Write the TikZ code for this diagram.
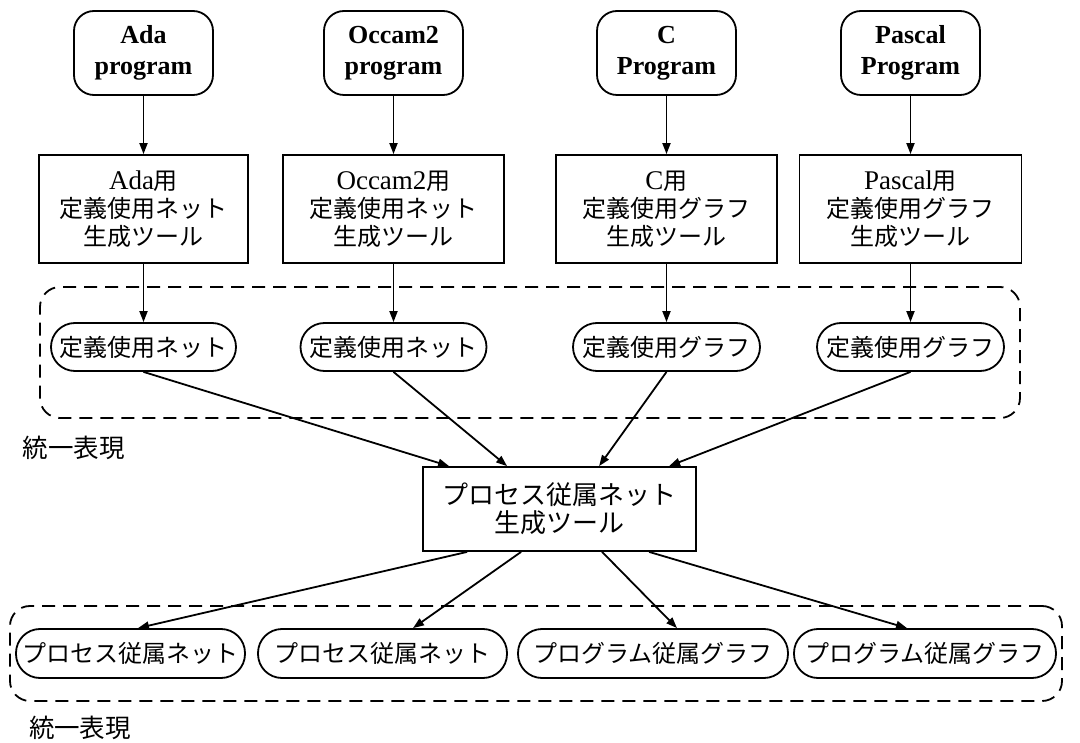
\documentclass[tikz,border=0pt]{standalone}
\usepackage{fontspec}
\setmainfont{Liberation Serif}
\newfontfamily\jp{Noto Sans CJK JP}
\usetikzlibrary{arrows.meta,calc}
\newcommand\latn[1]{{\rmfamily\fontsize{27}{28}\selectfont #1}}
\begin{document}
\begin{tikzpicture}[x=1pt,y=-1pt,
  line width=1.8pt,
  src/.style={draw, rounded corners=20pt, minimum width=139pt, minimum height=84pt,
    align=center, inner sep=0pt, font=\fontsize{26}{31}\selectfont\bfseries},
  tool/.style={draw, minimum height=108pt, align=center, inner sep=0pt,
    font=\jp\fontsize{24}{28}\selectfont},
  rep/.style={draw, rounded corners=24pt, minimum height=48pt, inner sep=0pt,
    font=\jp\fontsize{24}{28}\selectfont},
  group/.style={draw, dash pattern=on 13pt off 8pt, rounded corners=20pt, inner sep=0pt},
  arr/.style={-{Triangle[length=11pt,width=8pt]}},
  lbl/.style={font=\jp\fontsize{25.5}{28}\selectfont, inner sep=0pt}
]
\useasboundingbox (0,0) rectangle (1080,743);

% source programs
\node[src] (sA) at (143.5,53) {Ada\\program};
\node[src] (sO) at (393.5,53) {Occam2\\program};
\node[src] (sC) at (666.5,53) {C\\Program};
\node[src] (sP) at (910.5,53) {Pascal\\Program};

% language-specific generators
\node[tool, minimum width=209pt] (tA) at (143.5,209) {\latn{Ada}用\\定義使用ネット\\生成ツール};
\node[tool, minimum width=221pt] (tO) at (393.5,209) {\latn{Occam2}用\\定義使用ネット\\生成ツール};
\node[tool, minimum width=221pt] (tC) at (666.5,209) {\latn{C}用\\定義使用グラフ\\生成ツール};
\node[tool, minimum width=222pt] (tP) at (910.5,209) {\latn{Pascal}用\\定義使用グラフ\\生成ツール};

% unified representation (upper)
\node[group, minimum width=980pt, minimum height=131pt] (g1) at (530,352.5) {};
\node[rep, minimum width=185pt] (rA) at (143.5,347) {定義使用ネット};
\node[rep, minimum width=186pt] (rO) at (393.5,347) {定義使用ネット};
\node[rep, minimum width=187pt] (rC) at (666.5,347) {定義使用グラフ};
\node[rep, minimum width=187pt] (rP) at (910.5,347) {定義使用グラフ};
\node[lbl] (L1) at (74,448) {統一表現};

% process dependence generator
\node[tool, minimum width=273pt, minimum height=84pt, font=\jp\fontsize{26}{28}\selectfont] (mid) at (559.5,509) {プロセス従属ネット\\生成ツール};

% unified representation (lower)
\node[group, minimum width=1052pt, minimum height=95pt] (g2) at (536,653.5) {};
\node[rep, minimum width=229pt, minimum height=49pt] (b1) at (130.5,653.5) {プロセス従属ネット};
\node[rep, minimum width=249pt, minimum height=49pt] (b2) at (382.5,653.5) {プロセス従属ネット};
\node[rep, minimum width=270pt, minimum height=49pt] (b3) at (653,653.5) {プログラム従属グラフ};
\node[rep, minimum width=262pt, minimum height=49pt] (b4) at (925,653.5) {プログラム従属グラフ};
\node[lbl] (L2) at (80,728) {統一表現};

% connectors
\foreach \n in {A,O,C,P}{
  \draw[arr] (s\n.south) -- (t\n.north);
  \draw[arr] (t\n.south) -- (r\n.north);
}
\draw[arr] (rA.south) -- ($(mid.north west)+(27,0)$);
\draw[arr] (rO.south) -- ($(mid.north west)+(85,0)$);
\draw[arr] (rC.south) -- ($(mid.north west)+(177,0)$);
\draw[arr] (rP.south) -- ($(mid.north west)+(247,0)$);

\draw[arr] ($(mid.south west)+(45,0)$) -- ($(b1.north)+(7.5,0)$);
\draw[arr] ($(mid.south west)+(99,0)$) -- ($(b2.north)+(30.5,0)$);
\draw[arr] ($(mid.south west)+(180,0)$) -- ($(b3.north)+(24,0)$);
\draw[arr] ($(mid.south west)+(227,0)$) -- ($(b4.north)+(-18,0)$);
\end{tikzpicture}
\end{document}
